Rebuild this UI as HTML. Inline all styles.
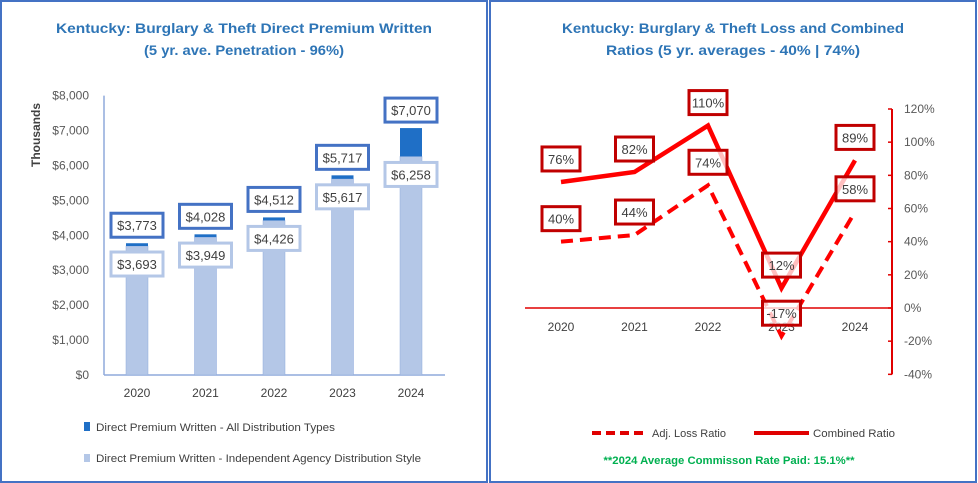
<!DOCTYPE html>
<html><head><meta charset="utf-8"><style>
body{margin:0;background:#fff}
svg{display:block;font-family:"Liberation Sans",sans-serif}
</style></head><body>
<svg id="s" width="978" height="483" viewBox="0 0 978 483" xmlns="http://www.w3.org/2000/svg">
<rect x="1" y="1" width="486" height="481" fill="#fff" stroke="#4472C4" stroke-width="2"/>
<rect x="490" y="1" width="486" height="481" fill="#fff" stroke="#4472C4" stroke-width="2"/>
<g font-weight="bold" fill="#2E75B6" font-size="14" text-anchor="middle">
<text x="244" y="33" textLength="376" lengthAdjust="spacingAndGlyphs">Kentucky: Burglary &amp; Theft Direct Premium Written</text>
<text x="244" y="55" textLength="200" lengthAdjust="spacingAndGlyphs">(5 yr. ave. Penetration - 96%)</text>
<text x="733" y="33" textLength="342" lengthAdjust="spacingAndGlyphs">Kentucky: Burglary &amp; Theft Loss and Combined</text>
<text x="733" y="55" textLength="254" lengthAdjust="spacingAndGlyphs">Ratios (5 yr. averages - 40% | 74%)</text>
</g>
<text transform="translate(40,135) rotate(-90)" text-anchor="middle" font-size="12" font-weight="bold" fill="#404040">Thousands</text>
<g id="left"></g>
<g id="right"></g>
<g font-size="11" fill="#404040">
<rect x="84" y="422" width="6" height="9" fill="#1F6FC6"/>
<text x="96" y="431" textLength="239" lengthAdjust="spacingAndGlyphs">Direct Premium Written - All Distribution Types</text>
<rect x="84" y="454" width="6" height="8" fill="#B4C7E7"/>
<text x="96" y="462" textLength="325" lengthAdjust="spacingAndGlyphs">Direct Premium Written - Independent Agency Distribution Style</text>
</g>
<g font-size="11" fill="#404040">
<line x1="592" y1="433" x2="647" y2="433" stroke="#E00000" stroke-width="4" stroke-dasharray="9,5"/>
<text x="652" y="437" textLength="74" lengthAdjust="spacingAndGlyphs">Adj. Loss Ratio</text>
<line x1="754" y1="433" x2="809" y2="433" stroke="#E00000" stroke-width="4"/>
<text x="813" y="437" textLength="82" lengthAdjust="spacingAndGlyphs">Combined Ratio</text>
<text x="729" y="464" text-anchor="middle" font-weight="bold" fill="#00B050" textLength="251" lengthAdjust="spacingAndGlyphs">**2024 Average Commisson Rate Paid: 15.1%**</text>
</g>
</svg>
<script>
const years=["2020","2021","2022","2023","2024"];
const totalPremium=[3773,4028,4512,5717,7070];
const independentPremium=[3693,3949,4426,5617,6258];
const leftTicks=["$0","$1,000","$2,000","$3,000","$4,000","$5,000","$6,000","$7,000","$8,000"];
const lossRatio=[40,44,74,-17,58];
const combinedRatio=[76,82,110,12,89];
const rightTicks=[-40,-20,0,20,40,60,80,100,120];

const NS="http://www.w3.org/2000/svg";
function mk(p,t,a,txt){const e=document.createElementNS(NS,t);for(const k in a)e.setAttribute(k,a[k]);if(txt!==undefined)e.textContent=txt;p.appendChild(e);return e;}
const L=document.getElementById('left'),R=document.getElementById('right');
// left axes
const ly=v=>375-v*(279.4/8000);
const lx=i=>137+i*68.5;
leftTicks.forEach((t,i)=>{
 const e=mk(L,'text',{x:89,y:ly(i*1000)+4,'text-anchor':'end','font-size':12,fill:'#595959'},t);
 
 
});
let ax=mk(L,'line',{x1:104,y1:ly(8000),x2:104,y2:375,stroke:'#8FAADC','stroke-width':1.5});


ax=mk(L,'line',{x1:104,y1:375,x2:445,y2:375,stroke:'#8FAADC','stroke-width':1.5});


years.forEach((y,i)=>{
 const cx=lx(i),w=22;
 const b1=mk(L,'rect',{x:cx-w/2,y:ly(independentPremium[i]),width:w,height:375-ly(independentPremium[i]),fill:'#B4C7E7',stroke:'#8FAADC','stroke-width':0.5});
 
 
 const b2=mk(L,'rect',{x:cx-w/2,y:ly(totalPremium[i]),width:w,height:ly(independentPremium[i])-ly(totalPremium[i]),fill:'#1F6FC6'});
 
 
 const t=mk(L,'text',{x:cx,y:397,'text-anchor':'middle','font-size':12,fill:'#404040'},y);
 
 
 const tb=ly(totalPremium[i])-6;
 const r1=mk(L,'rect',{x:cx-26,y:tb-24,width:52,height:24,fill:'#fff',stroke:'#4472C4','stroke-width':3});
 
 
 const l1=mk(L,'text',{x:cx,y:tb-7,'text-anchor':'middle','font-size':13,fill:'#404040'},'$'+totalPremium[i].toLocaleString('en-US'));
 
 
 const lb=ly(independentPremium[i])+6;
 const r2=mk(L,'rect',{x:cx-26,y:lb,width:52,height:24,fill:'#fff',stroke:'#B4C7E7','stroke-width':3});
 
 
 const l2=mk(L,'text',{x:cx,y:lb+17,'text-anchor':'middle','font-size':13,fill:'#404040'},'$'+independentPremium[i].toLocaleString('en-US'));
 
 
});
// right chart
const ry=v=>308-v*(199/120);
const rx=i=>561+i*73.5;
rightTicks.forEach(v=>{
 const tk=mk(R,'line',{x1:888,y1:ry(v),x2:892,y2:ry(v),stroke:'#E00000','stroke-width':1.5});
 
 
 const e=mk(R,'text',{x:904,y:ry(v)+4,'font-size':12,fill:'#595959'},v+'%');
 
 
});
ax=mk(R,'line',{x1:892,y1:ry(120),x2:892,y2:ry(-40),stroke:'#E00000','stroke-width':2});


ax=mk(R,'line',{x1:525,y1:ry(0),x2:892,y2:ry(0),stroke:'#E00000','stroke-width':1.5});


years.forEach((y,i)=>{
 const t=mk(R,'text',{x:rx(i),y:331,'text-anchor':'middle','font-size':12,fill:'#404040'},y);
 
 
});
const pts=a=>a.map((v,i)=>rx(i)+','+ry(v)).join(' ');
const pl=mk(R,'polyline',{points:pts(lossRatio),fill:'none',stroke:'#FF0000','stroke-width':4,'stroke-dasharray':'12,7'});


const pc=mk(R,'polyline',{points:pts(combinedRatio),fill:'none',stroke:'#FF0000','stroke-width':4.5,'stroke-linejoin':'miter'});


function rlabel(v,i,name){
 const cx=rx(i),b=ry(v)-11;
 const r=mk(R,'rect',{x:cx-19,y:b-24,width:38,height:24,fill:'rgba(255,255,255,0.75)',stroke:'#C00000','stroke-width':3});
 
 
 const t=mk(R,'text',{x:cx,y:b-7,'text-anchor':'middle','font-size':13,fill:'#404040'},v+'%');
 
 
}
lossRatio.forEach((v,i)=>rlabel(v,i,'loss-ratio-label'));
combinedRatio.forEach((v,i)=>rlabel(v,i,'combined-ratio-label'));
</script>
</body></html>
